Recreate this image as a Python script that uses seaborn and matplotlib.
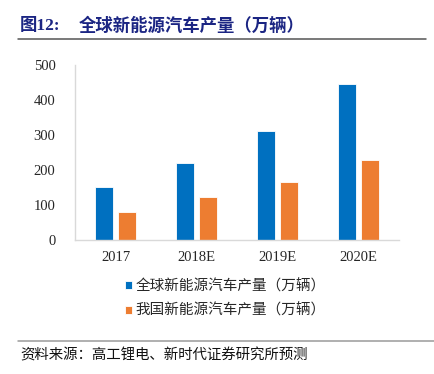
#!/usr/bin/env python3
# plot.py
# Global vs China NEV production bar chart (万辆)

import matplotlib
matplotlib.use("Agg")
import matplotlib.pyplot as plt
from matplotlib.lines import Line2D
import seaborn as sns
import pandas as pd

# -------------------------
# Data
# -------------------------
years = ["2017", "2018E", "2019E", "2020E"]
global_output = [151, 220, 311, 445]
china_output = [81, 122, 166, 229]
series_names = ["全球新能源汽车产量（万辆）", "我国新能源汽车产量（万辆）"]
y_ticks = [0, 100, 200, 300, 400, 500]

BLUE = "#0070C0"
ORANGE = "#ED7D31"
NAVY = "#1B2583"

df = pd.DataFrame({
    "year": years * 2,
    "value": global_output + china_output,
    "series": [series_names[0]] * len(years) + [series_names[1]] * len(years),
})

# -------------------------
# Style
# -------------------------
sns.set_style("white")
plt.rcParams["font.family"] = ["Liberation Serif", "Noto Sans CJK SC", "DejaVu Sans"]

fig = plt.figure(figsize=(4.34, 3.74), dpi=100)
ax = fig.add_axes([75 / 434, 1 - 240 / 374, 324 / 434, 175 / 374])

sns.barplot(
    data=df, x="year", y="value", hue="series",
    palette=[BLUE, ORANGE], saturation=1, width=0.56, gap=0.2,
    edgecolor="white", linewidth=0.6, ax=ax,
)

ax.set_ylim(0, 500)
ax.set_xlim(-0.5, len(years) - 0.5)
ax.set_yticks(y_ticks)
ax.set_xlabel("")
ax.set_ylabel("")
for s in ["top", "right"]:
    ax.spines[s].set_visible(False)
for s in ["left", "bottom"]:
    ax.spines[s].set_color("#d9d9d9")
    ax.spines[s].set_linewidth(1.0)
ax.tick_params(axis="y", direction="in", length=4, width=0.8, color="#d9d9d9",
               labelsize=10.5, pad=14)
ax.tick_params(axis="x", length=0, labelsize=10.5, pad=8)

# legend below the plot
handles, labels = ax.get_legend_handles_labels()
ax.legend(
    handles, labels, loc="upper left",
    bbox_to_anchor=(125 / 434, 1 - 279 / 374), bbox_transform=fig.transFigure,
    frameon=False, handlelength=0.5, handleheight=0.5,
    handletextpad=0.25, labelspacing=0.7, borderpad=0, borderaxespad=0,
    prop={"family": ["Noto Sans CJK SC"], "size": 10.5},
)

# -------------------------
# Header / footer
# -------------------------
fig.text(20 / 434, 1 - 26 / 374, "图12:", color=NAVY, fontsize=12.5, fontweight="bold",
         va="center", ha="left", family=["Liberation Serif", "Noto Sans CJK SC"])
fig.text(79 / 434, 1 - 26 / 374, "全球新能源汽车产量（万辆）", color=NAVY, fontsize=12.5,
         fontweight="bold", va="center", ha="left", family=["Noto Sans CJK SC"])
fig.add_artist(Line2D([18 / 434, 426 / 434], [1 - 38.5 / 374] * 2,
                      transform=fig.transFigure, color="#555555", linewidth=1.1))

fig.add_artist(Line2D([18 / 434, 434 / 434], [1 - 341 / 374] * 2,
                      transform=fig.transFigure, color="#9a9a9a", linewidth=1.1))
fig.text(20 / 434, 1 - 355 / 374, "资料来源：高工锂电、新时代证券研究所预测", color="#111111",
         fontsize=10.4, va="center", ha="left", family=["Noto Sans CJK SC"])

fig.savefig("out.png", dpi=100)
plt.close(fig)
